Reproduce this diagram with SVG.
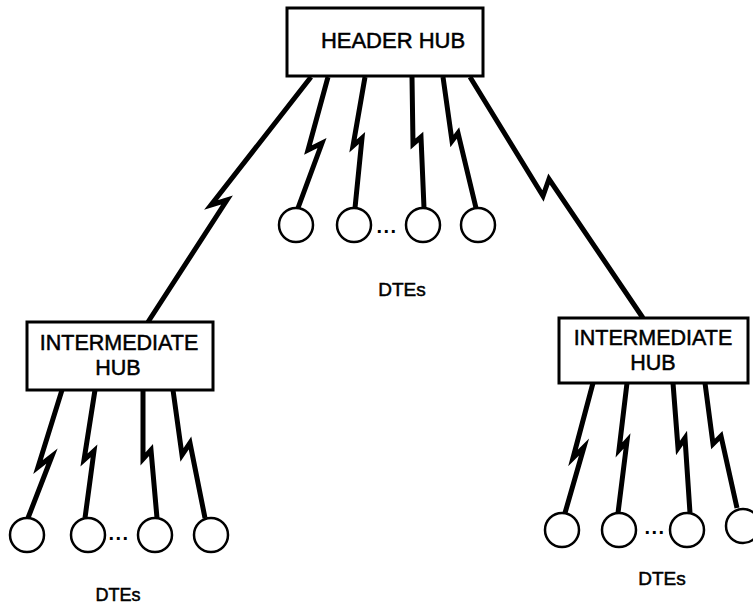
<svg xmlns="http://www.w3.org/2000/svg" width="753" height="606" viewBox="0 0 753 606">
<style>
.box{fill:#fff;stroke:#000;stroke-width:3}
.lnk{fill:none;stroke:#000;stroke-width:5;stroke-linejoin:miter;stroke-miterlimit:6;stroke-linecap:butt}
.dte{fill:#fff;stroke:#000;stroke-width:2.5}
.t{font-family:"Liberation Sans",Arial,sans-serif;fill:#000;stroke:#000;stroke-width:0.5;text-anchor:middle}
.dots{font-family:"Liberation Sans",Arial,sans-serif;font-weight:bold;fill:#000;text-anchor:middle}
</style>
<rect width="753" height="606" fill="#fff"/>
<g id="connectors">
<polyline class="lnk" points="311,77 211,205 227,200 148,322"/>
<polyline class="lnk" points="328,77 308,150 322,143 298,208"/>
<polyline class="lnk" points="365,77 353,146 362,138 355,208"/>
<polyline class="lnk" points="412,77 413,144 421,137 424,208"/>
<polyline class="lnk" points="443,77 452,141 458,133 476,208"/>
<polyline class="lnk" points="470,77 543,196 549,179 643,318"/>
<polyline class="lnk" points="62,390 38,467 52,456 28,518"/>
<polyline class="lnk" points="95,390 84,460 94,451 85,518"/>
<polyline class="lnk" points="143,390 143,459 151,450 157,518"/>
<polyline class="lnk" points="173,390 182,455 190,443 205,518"/>
<polyline class="lnk" points="593,383 573,458 584,447 565,513"/>
<polyline class="lnk" points="627,383 619,450 627,441 618,513"/>
<polyline class="lnk" points="673,383 678,448 685,438 690,513"/>
<polyline class="lnk" points="705,383 713,444 721,436 737,508"/>
</g>
<g id="header-hub">
<rect class="box" x="287" y="8" width="196" height="68"/>
<text class="t" x="393" y="48" font-size="22">HEADER HUB</text>
</g>
<g id="left-hub">
<rect class="box" x="27" y="322" width="186" height="68"/>
<text class="t" x="119" y="350" font-size="21.5">INTERMEDIATE</text>
<text class="t" x="118" y="375" font-size="21.5">HUB</text>
</g>
<g id="right-hub">
<rect class="box" x="559" y="318" width="189" height="65"/>
<text class="t" x="653" y="345" font-size="21.5">INTERMEDIATE</text>
<text class="t" x="653" y="370" font-size="21.5">HUB</text>
</g>
<g id="header-dtes">
<circle class="dte" cx="296" cy="225" r="17"/>
<circle class="dte" cx="354" cy="225" r="17"/>
<circle class="dte" cx="423" cy="225" r="17"/>
<circle class="dte" cx="478" cy="225" r="17"/>
<text class="dots" x="387" y="233" font-size="20" letter-spacing="1.5">...</text>
<text class="t" x="402" y="296" font-size="19">DTEs</text>
</g>
<g id="left-dtes">
<circle class="dte" cx="27" cy="535" r="17"/>
<circle class="dte" cx="88" cy="535" r="17"/>
<circle class="dte" cx="155" cy="535" r="17"/>
<circle class="dte" cx="211" cy="535" r="17"/>
<text class="dots" x="119" y="540" font-size="20" letter-spacing="1.5">...</text>
<text class="t" x="118" y="601" font-size="18">DTEs</text>
</g>
<g id="right-dtes">
<circle class="dte" cx="562" cy="530" r="17"/>
<circle class="dte" cx="619" cy="530" r="17"/>
<circle class="dte" cx="687" cy="530" r="17"/>
<circle class="dte" cx="743" cy="526" r="17"/>
<text class="dots" x="655" y="534" font-size="20" letter-spacing="1.5">...</text>
<text class="t" x="662" y="585" font-size="19">DTEs</text>
</g>
</svg>
